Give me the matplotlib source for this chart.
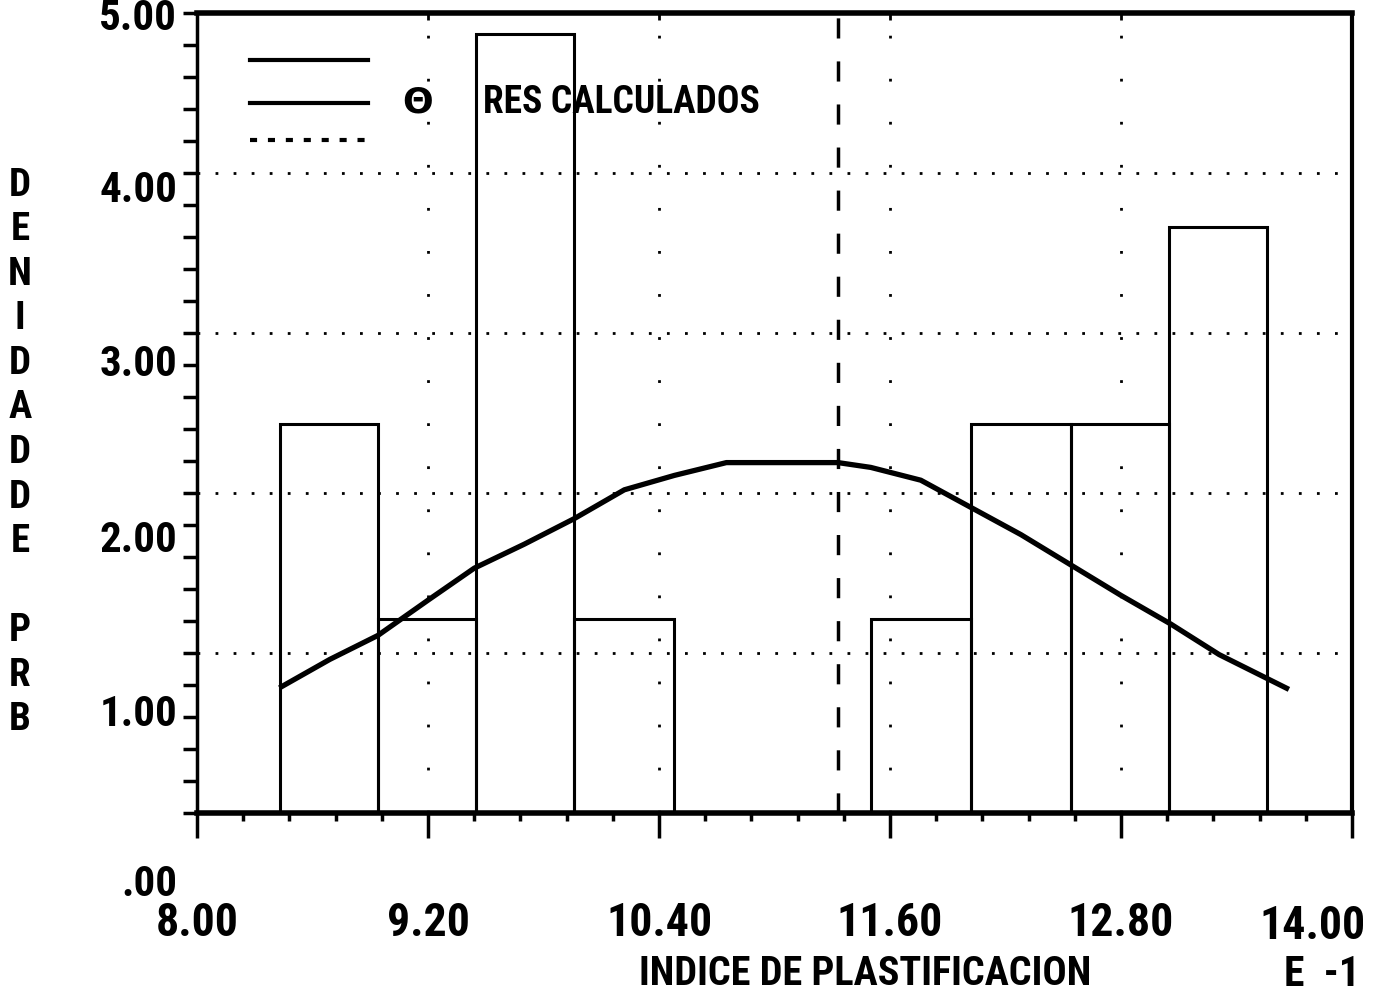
import matplotlib
matplotlib.use("Agg")
import matplotlib.pyplot as plt
from matplotlib import font_manager

# ---------------- data ----------------
bin_edges = [8.43, 8.94, 9.45, 9.96, 10.48, 10.99, 11.50, 12.02, 12.54, 13.05, 13.56]
densities = [2.43, 1.21, 4.87, 1.21, 0.0, 0.0, 1.21, 2.43, 2.43, 3.66]

curve_x = [8.44, 8.69, 8.94, 9.20, 9.44, 9.70, 9.96, 10.22, 10.48, 10.75, 11.03,
           11.33, 11.50, 11.76, 12.02, 12.28, 12.54, 12.80, 13.06, 13.31, 13.66]
curve_y = [0.79, 0.96, 1.11, 1.33, 1.53, 1.68, 1.84, 2.02, 2.11, 2.19, 2.19,
           2.19, 2.16, 2.08, 1.91, 1.74, 1.55, 1.36, 1.18, 0.99, 0.78]

mean_x = 11.33
grid_x = [9.2, 10.4, 11.6, 12.8]
grid_y = [1, 2, 3, 4]

x_ticks = [8.0, 9.2, 10.4, 11.6, 12.8, 14.0]
x_tick_labels = ["8.00", "9.20", "10.40", "11.60", "12.80", "14.00"]
y_tick_labels = [".00", "1.00", "2.00", "3.00", "4.00", "5.00"]
x_label = "INDICE DE PLASTIFICACION"
x_exp = "E  -1"
y_label = "DENIDADDE PRB"
legend_text = "RES CALCULADOS"

# ---------------- pick a narrow font if there is one ----------------
avail = {f.name for f in font_manager.fontManager.ttflist}
FONT = "DejaVu Sans"
STRETCH = "normal"
for name in ["Roboto Condensed", "Liberation Sans Narrow", "Open Sans Condensed"]:
    if name in avail:
        FONT = name
        break
else:
    if any(f.name == "DejaVu Sans" and f.stretch == "condensed" for f in font_manager.fontManager.ttflist):
        STRETCH = "condensed"

txt = dict(family=FONT, fontweight="bold", fontstretch=STRETCH, color="black")

W, H = 1375, 1000
fig = plt.figure(figsize=(W / 100, H / 100), dpi=100)
ax = fig.add_axes([197 / W, 187 / H, 1155 / W, 800 / H])

# gridlines
for gy in grid_y:
    ax.axhline(gy, color="black", lw=2, ls=(0, (1, 5.5)), zorder=1)
for gx in grid_x:
    ax.axvline(gx, color="black", lw=2, ls=(0, (1, 14.5)), zorder=1)
ax.axvline(mean_x, color="black", lw=2.5, ls=(0, (5.8, 6.6)), zorder=1)

# histogram bars
widths = [b - a for a, b in zip(bin_edges[:-1], bin_edges[1:])]
ax.bar(bin_edges[:-1], densities, width=widths, align="edge",
       fill=False, edgecolor="black", lw=2.2, zorder=2)

# fitted curve
ax.plot(curve_x, curve_y, color="black", lw=3.8, zorder=3)

ax.set_xlim(8, 14)
ax.set_ylim(0, 5)

# spines
for side, w in [("left", 2.5), ("bottom", 4), ("top", 4), ("right", 3)]:
    ax.spines[side].set_linewidth(w)

# ticks (last x label is pulled in from the edge like on the original plotter)
ax.set_xticks(x_ticks)
ax.set_xticks([8 + 0.24 * i for i in range(26)], minor=True)
ax.set_xticklabels(x_tick_labels[:-1] + [""], **txt, fontsize=33)
ax.tick_params(axis="x", which="major", direction="out", length=18, width=2.5, pad=45)
ax.tick_params(axis="x", which="minor", direction="out", length=6, width=2.5)
ax.annotate(x_tick_labels[-1], xy=(x_ticks[-1], 0), xycoords="data",
            xytext=(14, -113), textcoords="offset pixels",
            ha="right", va="center", fontsize=33, annotation_clip=False, **txt)
ax.set_yticks([0.2 * i for i in range(26)])
ax.set_yticklabels([])
ax.tick_params(axis="y", which="major", direction="out", length=10, width=2.5)

top = ax.secondary_xaxis("top")
top.set_xticks(x_ticks)
top.set_xticklabels([])
top.tick_params(direction="in", length=5, width=2)
top.spines["top"].set_visible(False)

# y tick labels (placed where the original plotter put them)
ylab_px = [885, 715, 540, 365, 190, 18]
for lab, py in zip(y_tick_labels, ylab_px):
    fig.text(177 / W, 1 - py / H, lab, ha="right", va="center", fontsize=31, **txt)

# axis labels
fig.text(865 / W, 1 - 974 / H, x_label, ha="center", va="center", fontsize=29, **txt)
fig.text(1322 / W, 1 - 974 / H, x_exp, ha="center", va="center", fontsize=30, **txt)
step = (720 - 185) / (len(y_label) - 1)
for i, ch in enumerate(y_label):
    fig.text(20 / W, 1 - (185 + i * step) / H, ch, ha="center", va="center", fontsize=28, **txt)

# legend block
for yy, ls in [(0.941, "-"), (0.8875, "-"), (0.841, (0, (1.7, 2.6)))]:
    ax.plot([0.046, 0.148], [yy, yy], transform=ax.transAxes, color="black", lw=3, ls=ls)
ax.text(0.191, 0.8875, "\u0398", transform=ax.transAxes, ha="center", va="center",
        fontsize=26, family="DejaVu Sans", fontweight="bold")
ax.text(0.2476, 0.8875, legend_text, transform=ax.transAxes, ha="left", va="center", fontsize=27, **txt)

fig.savefig("out.png", dpi=100)
